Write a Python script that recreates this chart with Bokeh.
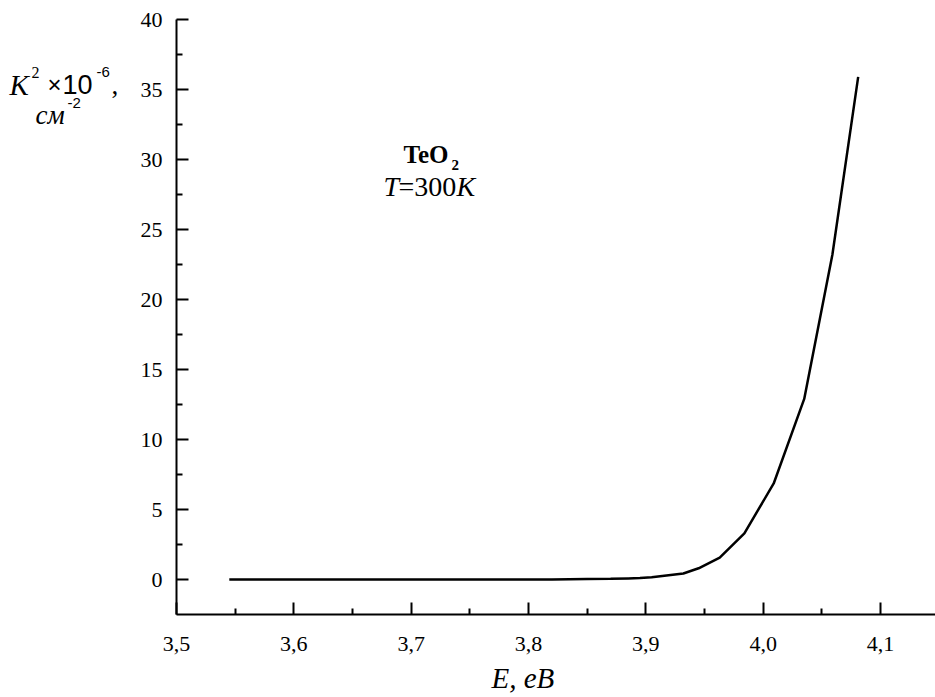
from bokeh.plotting import figure
from bokeh.models import FixedTicker, Label, Range1d
from bokeh.embed import file_html
from bokeh.resources import INLINE

# Data (photon energy, eV ; K^2 x 1e-6, cm^-2)
energy = [3.545, 3.60, 3.65, 3.70, 3.75, 3.80, 3.82, 3.85, 3.87, 3.885,
          3.895, 3.905, 3.932, 3.945, 3.963, 3.984, 4.009, 4.035, 4.059, 4.081]
k2 = [0.0, 0.0, 0.0, 0.0, 0.0, 0.0, 0.0, 0.03, 0.05, 0.08,
      0.1, 0.16, 0.43, 0.8, 1.57, 3.3, 6.86, 12.9, 23.2, 35.9]

x_ticks = [3.5, 3.6, 3.7, 3.8, 3.9, 4.0, 4.1]
x_tick_labels = ["3,5", "3,6", "3,7", "3,8", "3,9", "4,0", "4,1"]
x_minor = [3.55, 3.65, 3.75, 3.85, 3.95, 4.05]
y_ticks = [0, 5, 10, 15, 20, 25, 30, 35, 40]
y_minor = [2.5, 7.5, 12.5, 17.5, 22.5, 27.5, 32.5, 37.5]

SERIF = "Liberation Serif"
SANS = "Liberation Sans"

W, H = 935, 697
# pixel geometry of the axes box (canvas pixels)
AX_L, AX_B = 176, 614          # left spine x, bottom spine y
PX_PER_X = 1173.3              # pixels per 1 eV
PX_PER_Y = 14.0                # pixels per unit
Y40_PX = 19                    # y pixel of tick 40
XMIN, YMIN, YMAX = 3.5, -2.5, 40

x_start = XMIN - AX_L / PX_PER_X
x_end = XMIN + (W - AX_L) / PX_PER_X
y_end = YMAX + Y40_PX / PX_PER_Y
y_start = YMAX - (H - Y40_PX) / PX_PER_Y

p = figure(width=W, height=H, output_backend="svg", toolbar_location=None,
           x_range=Range1d(x_start, x_end), y_range=Range1d(y_start, y_end),
           min_border_left=0, min_border_right=0, min_border_top=0,
           min_border_bottom=0)
p.outline_line_color = None
p.grid.visible = False
p.background_fill_color = "white"
p.border_fill_color = "white"

p.line(energy, k2, line_color="black", line_width=2.5)

for ax in (p.xaxis[0], p.yaxis[0]):
    ax.axis_line_width = 2
    ax.axis_line_color = "black"
    ax.major_tick_line_width = 2
    ax.minor_tick_line_width = 2
    ax.major_tick_in = 12
    ax.major_tick_out = 0
    ax.minor_tick_in = 6
    ax.minor_tick_out = 0
    ax.major_label_text_font = SERIF
    ax.major_label_text_font_size = "22px"
    ax.major_label_text_color = "black"

p.xaxis.fixed_location = YMIN
p.xaxis.bounds = (XMIN, x_end)
p.xaxis.ticker = FixedTicker(ticks=x_ticks, minor_ticks=x_minor)
p.xaxis.major_label_overrides = {t: s for t, s in zip(x_ticks, x_tick_labels)}
p.xaxis.major_label_standoff = 22

p.yaxis.fixed_location = XMIN
p.yaxis.bounds = (YMIN, YMAX)
p.yaxis.ticker = FixedTicker(ticks=y_ticks, minor_ticks=y_minor)
p.yaxis.major_label_standoff = 14


def gx(px):
    return x_start + px / PX_PER_X


def gy(py):
    return y_end - py / PX_PER_Y


def lab(text, px, py, font, size, style="normal", align="left"):
    p.add_layout(Label(x=gx(px), y=gy(py), text=text, text_font=font,
                       text_font_size=f"{size}px", text_font_style=style,
                       text_align=align, text_baseline="alphabetic",
                       text_color="black"))


# y axis label  "K^2 x10^-6,"  /  "см^-2"
lab("K", 9, 84, SERIF, 29, "italic")
lab("2", 31, 72, SERIF, 16)
lab("\u00d7", 47, 84, SANS, 24)
lab("10", 62, 84, SANS, 27)
lab("-6", 96, 71, SANS, 15)
lab(",", 111, 84, SERIF, 27)
lab("\u0441\u043c", 35, 114, SERIF, 27, "italic")
lab("-2", 67, 102, SANS, 15)

# annotation "TeO2"  and  "T=300K"
lab("TeO", 403, 154, SERIF, 25, "bold")
lab("2", 451, 164, SERIF, 15, "bold")
lab("T", 383, 186, SERIF, 28, "italic")
lab("=300", 398, 186, SERIF, 28)
lab("K", 456, 186, SERIF, 28, "italic")

# x axis label
lab("E, eB", 491, 677, SERIF, 29, "italic")

open("out.html", "w").write(file_html(p, INLINE))
